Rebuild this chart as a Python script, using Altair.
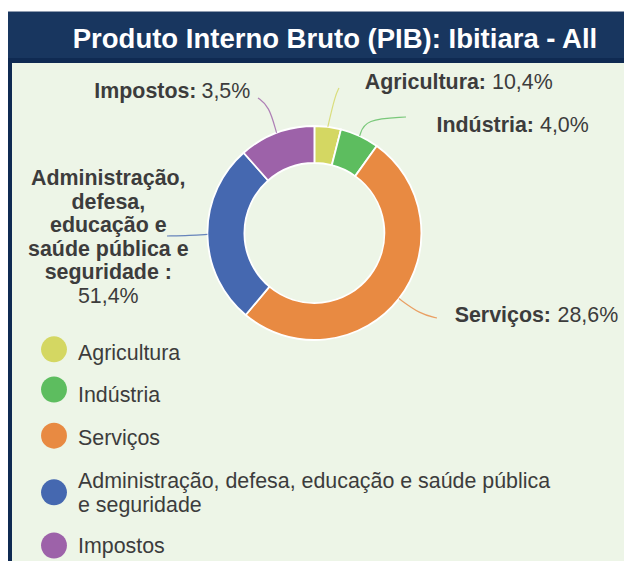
import altair as alt
import pandas as pd

# ---------------- data ----------------
categories = ["Agricultura", "Indústria", "Serviços",
              "Administração, defesa, educação e saúde pública e seguridade", "Impostos"]
slice_values = [4.0, 5.9, 51.2, 27.4, 11.5]          # slice sizes as drawn
label_pcts = ["10,4%", "4,0%", "28,6%", "51,4%", "3,5%"]  # percentages as printed
label_names = [["Agricultura:"], ["Indústria:"], ["Serviços:"],
               ["Administração,", "defesa,", "educação e", "saúde pública e", "seguridade :"],
               ["Impostos:"]]
legend_lines = [["Agricultura"], ["Indústria"], ["Serviços"],
                ["Administração, defesa, educação e saúde pública", "e seguridade"],
                ["Impostos"]]
title_text = "Produto Interno Bruto (PIB): Ibitiara - All"

# ---------------- style / layout (reference image pixels) ----------------
colors = ["#d4d762", "#5dbd5f", "#e88a42", "#4568b0", "#9d62a9"]
NAVY = "#18365f"
NAVY_DARK = "#0f2a52"
PANEL = "#edf5e7"
TXT = "#3c3c3c"
FONT = "Liberation Sans"
FS = 21.4
OFF = 8  # page margin
W, H = 616, 553


def p(v):
    return v - OFF


CX, CY, R_OUT, R_IN = 314.4, 233.0, 107, 70

# label anchors: name x, name baseline, name align, pct x, pct baseline, pct align
label_layout = [
    (486, 89.3, "right", 492, 89.3, "left"),
    (534, 131.7, "right", 540, 131.7, "left"),
    (551, 321.7, "right", 557.5, 321.7, "left"),
    (108.3, 185.0, "center", 108.3, 303.0, "center"),
    (196.5, 98.3, "right", 201.5, 98.3, "left"),
]
# leader line elbow and end points
leader_layout = [
    [(335, 96), (339, 88)],
    [(365, 119), (406, 117)],
    [(420, 314), (437, 318)],
    [(190, 235.5), (167, 236)],
    [(269, 106), (258, 98)],
]
legend_circle_y = [349.3, 389.5, 435.7, 492.3, 545.5]
legend_text_y = [360.0, 401.7, 445.0, 488.3, 553.3]
LEG_CX, LEG_TX = 54, 78

color_scale = alt.Scale(domain=categories, range=colors)
col = alt.Color("category:N", scale=color_scale, legend=None)

# ---------------- tables ----------------
slices = pd.DataFrame({"category": categories, "value": slice_values,
                       "order": list(range(len(categories)))})

lrows = []
for i, c in enumerate(categories):
    lrows.append(dict(category=c, value=slice_values[i], order=i, step=0, lx=0.0, ly=0.0))
    for s, (x, y) in enumerate(leader_layout[i], start=1):
        lrows.append(dict(category=c, value=slice_values[i], order=i, step=s, lx=p(x), ly=p(y)))
leader_df = pd.DataFrame(lrows)

lab = pd.DataFrame({
    "category": categories,
    "name": label_names,
    "pct": label_pcts,
    "nx": [p(l[0]) for l in label_layout],
    "ny": [p(l[1]) for l in label_layout],
    "nalign": [l[2] for l in label_layout],
    "px": [p(l[3]) for l in label_layout],
    "py": [p(l[4]) for l in label_layout],
    "palign": [l[5] for l in label_layout],
})

leg = pd.DataFrame({
    "category": categories,
    "text": legend_lines,
    "cy": [p(v) for v in legend_circle_y],
    "ty": [p(v) for v in legend_text_y],
})

dummy = pd.DataFrame({"k": [0]})

# ---------------- layers ----------------
frame = alt.Chart(dummy).mark_rect(color=NAVY).encode(
    x=alt.value(p(7)), x2=alt.value(640), y=alt.value(p(11)), y2=alt.value(600))
top_edge = alt.Chart(dummy).mark_rect(color="#8f9cb0").encode(
    x=alt.value(p(7)), x2=alt.value(640), y=alt.value(p(11)), y2=alt.value(p(12)))
band = alt.Chart(dummy).mark_rect(color=NAVY_DARK).encode(
    x=alt.value(p(7)), x2=alt.value(640), y=alt.value(p(58)), y2=alt.value(p(63)))
left_border = alt.Chart(dummy).mark_rect(color=NAVY_DARK).encode(
    x=alt.value(p(7)), x2=alt.value(p(12)), y=alt.value(p(58)), y2=alt.value(600))
panel = alt.Chart(dummy).mark_rect(color=PANEL).encode(
    x=alt.value(p(12)), x2=alt.value(640), y=alt.value(p(63)), y2=alt.value(600))

title = alt.Chart(dummy).mark_text(
    text=title_text, font=FONT, fontSize=27.5, fontWeight="bold", color="white",
    align="center", baseline="alphabetic").encode(x=alt.value(p(335)), y=alt.value(p(47.5)))

donut = alt.Chart(slices).mark_arc(radius=R_OUT, radius2=R_IN, stroke="white",
                                   strokeWidth=1.8).encode(
    theta=alt.Theta("value:Q", stack=True),
    order=alt.Order("order:Q"),
    color=col,
    x=alt.value(p(CX)), y=alt.value(p(CY)))

leaders = alt.Chart(leader_df).transform_window(
    cum="sum(value)", sort=[alt.SortField("order")], groupby=["step"], frame=[None, 0]
).transform_joinaggregate(
    total="sum(value)", groupby=["step"]
).transform_calculate(
    mid="(datum.cum - datum.value / 2) / datum.total * 2 * PI"
).transform_calculate(
    lxp=f"datum.step == 0 ? {p(CX)} + {R_OUT} * sin(datum.mid) : datum.lx",
    lyp=f"datum.step == 0 ? {p(CY)} - {R_OUT} * cos(datum.mid) : datum.ly",
).mark_line(interpolate="basis", strokeWidth=1.2, opacity=0.8).encode(
    x=alt.X("lxp:Q", scale=None, axis=None),
    y=alt.Y("lyp:Q", scale=None, axis=None),
    order="step:Q",
    color=col)

text_layers = []
for a in ["right", "center"]:
    text_layers.append(alt.Chart(lab).transform_filter(alt.datum.nalign == a).mark_text(
        align=a, baseline="alphabetic", font=FONT, fontSize=FS, fontWeight="bold",
        color=TXT, lineHeight=23.6).encode(
        x=alt.X("nx:Q", scale=None, axis=None), y=alt.Y("ny:Q", scale=None, axis=None),
        text="name"))
for a in ["left", "center"]:
    text_layers.append(alt.Chart(lab).transform_filter(alt.datum.palign == a).mark_text(
        align=a, baseline="alphabetic", font=FONT, fontSize=FS, fontWeight="normal",
        color=TXT).encode(
        x=alt.X("px:Q", scale=None, axis=None), y=alt.Y("py:Q", scale=None, axis=None),
        text="pct:N"))

leg_circles = alt.Chart(leg).mark_circle(size=670, opacity=1).encode(
    x=alt.value(p(LEG_CX)), y=alt.Y("cy:Q", scale=None, axis=None), color=col)
leg_text = alt.Chart(leg).mark_text(
    align="left", baseline="alphabetic", font=FONT, fontSize=FS, color=TXT,
    lineHeight=23.4).encode(
    x=alt.value(p(LEG_TX)), y=alt.Y("ty:Q", scale=None, axis=None), text="text")

chart = alt.layer(frame, top_edge, band, left_border, panel, title, donut, leaders,
                  *text_layers, leg_circles, leg_text).properties(
    width=W, height=H, padding=0, autosize="none", background="white"
).configure_view(stroke=None)

chart.save("out.html", embed_options={"renderer": "svg", "actions": False})
